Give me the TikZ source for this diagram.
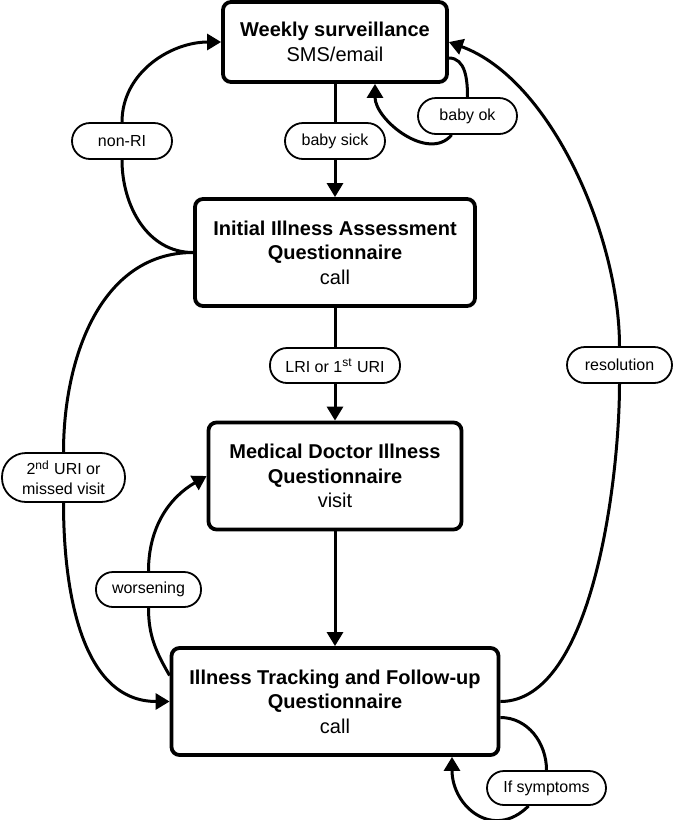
\documentclass[tikz,border=0pt]{standalone}
\usepackage{fontspec}
\setmainfont{Liberation Sans}
\usetikzlibrary{arrows.meta}

\begin{document}
\begin{tikzpicture}[
    x=0.5pt,y=0.5pt,
    stage/.style={
      draw,line width=1.9pt,rounded corners=4pt,align=center,
      inner sep=0pt,minimum height=53.5pt,
      font=\fontsize{10}{12.2}\selectfont
    },
    cond/.style={
      draw,line width=0.9pt,rounded corners=8.5pt,align=center,
      fill=white,inner sep=0pt,minimum height=17.5pt,
      font=\fontsize{8}{9.8}\selectfont
    },
    flow/.style={
      line width=1.5pt,-{Triangle[length=7pt,width=8pt]}
    }
  ]
    \useasboundingbox (0,0) rectangle (674,-820);

    % stages
    \node[stage,minimum width=112pt,minimum height=40pt] (weekly) at (335,-42)
      {\textbf{Weekly surveillance}\\SMS/email};
    \node[stage,minimum width=140pt] (initial) at (335,-252.5)
      {\textbf{Initial Illness Assessment}\\\textbf{Questionnaire}\\call};
    \node[stage,minimum width=126.5pt] (medical) at (335,-476)
      {\textbf{Medical Doctor Illness}\\\textbf{Questionnaire}\\visit};
    \node[stage,minimum width=163.5pt] (tracking) at (335,-701.5)
      {\textbf{Illness Tracking and Follow-up}\\\textbf{Questionnaire}\\call};

    % conditions
    \node[cond,minimum width=50pt,minimum height=18pt,rounded corners=9pt] (sick) at (335,-141) {baby sick};
    \node[cond,minimum width=50pt,minimum height=18pt,rounded corners=9pt] (nonri) at (122,-141) {non-RI};
    \node[cond,minimum width=49.5pt,minimum height=18pt,rounded corners=9pt] (ok) at (467.5,-116) {baby ok};
    \node[cond,minimum width=65pt] (lri) at (335,-365.5) {LRI or 1\textsuperscript{st} URI};
    \node[cond,minimum width=52.5pt,minimum height=18pt,rounded corners=9pt] (resol) at (619.5,-365) {resolution};
    \node[cond,minimum width=61.5pt,minimum height=24.5pt,rounded corners=12pt] (missed) at (63.5,-477.5)
      {2\textsuperscript{nd} URI or\\missed visit};
    \node[cond,minimum width=52.5pt] (worse) at (148.5,-589.5) {worsening};
    \node[cond,minimum width=59.5pt,minimum height=17pt] (sym) at (546.5,-788) {If symptoms};

    % main line
    \draw[flow] (weekly) -- (sick) -- (initial);
    \draw[flow] (initial) -- (lri) -- (medical);
    \draw[flow] (medical) -- (tracking);

    % loops
    \draw[flow] ([yshift=-8pt]weekly.east) to[out=0,in=90] (ok)
      to[out=-130,in=-90] ([xshift=20pt]weekly.south);
    \draw[flow] (initial.west) to[out=180,in=-90] (nonri)
      to[out=90,in=180] (weekly.west);
    \draw[flow] (initial.west) to[out=180,in=90] (missed)
      to[out=-90,in=180] (tracking.west);
    \draw[flow] ([yshift=13pt]tracking.west) to[out=120,in=-90] (worse)
      to[out=90,in=210] (medical.west);
    \draw[flow] (tracking.east) to[out=0,in=-90,looseness=0.7] (resol)
      to[out=90,in=-20,looseness=0.8] (weekly.east);
    \draw[flow] ([yshift=-8pt]tracking.east) to[out=0,in=90] (sym)
      to[out=-135,in=-90,looseness=1.4] ([xshift=58.5pt]tracking.south);
\end{tikzpicture}
\end{document}
